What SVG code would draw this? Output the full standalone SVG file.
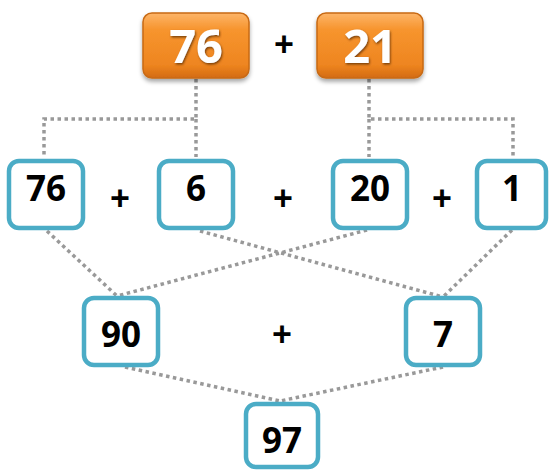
<svg xmlns="http://www.w3.org/2000/svg" width="549" height="470" viewBox="0 0 549 470">
<defs>
<linearGradient id="og" x1="0" y1="0" x2="0" y2="1">
<stop offset="0" stop-color="#FDB56A"/>
<stop offset="0.25" stop-color="#F7952E"/>
<stop offset="0.8" stop-color="#EE8520"/>
<stop offset="1" stop-color="#D36B10"/>
</linearGradient>
<filter id="bs" x="-20%" y="-20%" width="140%" height="150%">
<feDropShadow dx="0" dy="3" stdDeviation="2" flood-color="#000" flood-opacity="0.35"/>
</filter>
<filter id="ts" x="-20%" y="-20%" width="140%" height="150%">
<feDropShadow dx="1" dy="1.5" stdDeviation="0.8" flood-color="#5a2a00" flood-opacity="0.8"/>
</filter>
<style>
.ob{fill:url(#og);stroke:#C86A14;stroke-width:1.5}
.ot{font-family:"Open Sans","Liberation Sans",sans-serif;font-weight:700;font-size:47px;fill:#fff;text-anchor:middle}
.bb{fill:#fff;stroke:#4BACC6;stroke-width:4.5}
.bt{font-family:"Open Sans","Liberation Sans",sans-serif;font-weight:700;font-size:35px;fill:#000;text-anchor:middle}
.pl{font-family:"Open Sans","Liberation Sans",sans-serif;font-weight:700;font-size:35px;fill:#000;text-anchor:middle}
.c{fill:none;stroke:#999;stroke-width:3.5;stroke-dasharray:3.5 3.5}
</style>
</defs>
<g id="connectors">
<polyline class="c" points="196,79 196,119 44,119 44,157"/>
<line class="c" x1="196" y1="119" x2="196" y2="157"/>
<polyline class="c" points="369,79 369,119 513,119 513,157"/>
<line class="c" x1="369" y1="119" x2="369" y2="157"/>
<line class="c" x1="47" y1="231" x2="117" y2="296"/>
<line class="c" x1="367" y1="230" x2="117" y2="296"/>
<line class="c" x1="200" y1="231" x2="443" y2="297"/>
<line class="c" x1="512" y1="230" x2="443" y2="297"/>
<line class="c" x1="125" y1="367" x2="280" y2="401"/>
<line class="c" x1="443" y1="367" x2="280" y2="401"/>
</g>
<g id="top76">
<rect class="ob" x="143" y="13" width="106" height="65" rx="9" filter="url(#bs)"/>
<text class="ot" x="196" y="63" filter="url(#ts)">76</text>
</g>
<g id="topplus"><text class="pl" x="284" y="57">+</text></g>
<g id="top21">
<rect class="ob" x="317" y="13" width="106" height="65" rx="9" filter="url(#bs)"/>
<text class="ot" x="370" y="63" filter="url(#ts)">21</text>
</g>
<g id="n76">
<rect class="bb" x="9" y="161" width="74" height="67" rx="10"/>
<text class="bt" x="46" y="201">76</text>
</g>
<g id="p1"><text class="pl" x="120" y="211">+</text></g>
<g id="n6">
<rect class="bb" x="159" y="161" width="74" height="67" rx="10"/>
<text class="bt" x="196" y="201">6</text>
</g>
<g id="p2"><text class="pl" x="283" y="211">+</text></g>
<g id="n20">
<rect class="bb" x="333" y="161" width="74" height="67" rx="10"/>
<text class="bt" x="370" y="201">20</text>
</g>
<g id="p3"><text class="pl" x="442" y="211">+</text></g>
<g id="n1">
<rect class="bb" x="477" y="161" width="69" height="67" rx="10"/>
<text class="bt" x="512" y="201">1</text>
</g>
<g id="n90">
<rect class="bb" x="84" y="298" width="74" height="67" rx="10"/>
<text class="bt" x="121" y="347">90</text>
</g>
<g id="p4"><text class="pl" x="282" y="347">+</text></g>
<g id="n7">
<rect class="bb" x="406" y="298" width="74" height="67" rx="10"/>
<text class="bt" x="443" y="347">7</text>
</g>
<g id="n97">
<rect class="bb" x="246" y="404" width="72" height="63" rx="10"/>
<text class="bt" x="282" y="453">97</text>
</g>
</svg>
